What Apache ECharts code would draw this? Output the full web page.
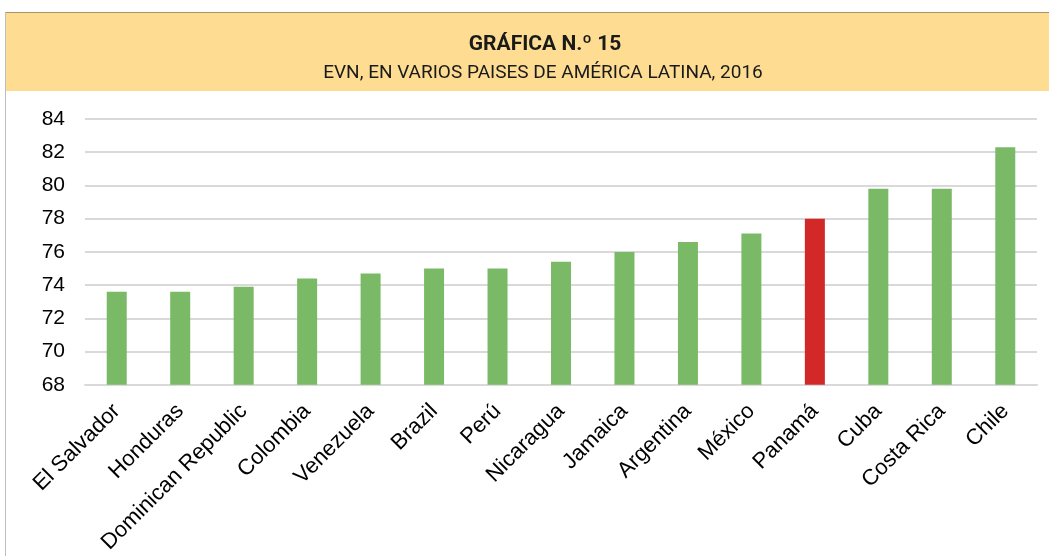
<!DOCTYPE html>
<html>
<head>
    <meta charset="UTF-8">
    <title>Gráfica N.º 15</title>
    <script src="https://cdn.jsdelivr.net/npm/echarts@6/dist/echarts.min.js"></script>
    <style>
        html, body { margin: 0; padding: 0; background: #fff; }
    </style>
</head>
<body>
<div id="main" style="width: 1049px;height:556px;"></div>
<script type="text/javascript">
    // datos
    let paises = ['El Salvador', 'Honduras', 'Dominican Republic', 'Colombia', 'Venezuela', 'Brazil', 'Perú',
        'Nicaragua', 'Jamaica', 'Argentina', 'México', 'Panamá', 'Cuba', 'Costa Rica', 'Chile'];
    let evn = [73.6, 73.6, 73.9, 74.4, 74.7, 75.0, 75.0, 75.4, 76.0, 76.6, 77.1, 78.0, 79.8, 79.8, 82.3];
    let destacado = 'Panamá';

    let verde = '#7aba66';
    let rojo = '#d22828';

    var myChart = echarts.init(document.getElementById('main'));

    let option = {
        animation: false,
        backgroundColor: '#ffffff',
        graphic: [
            {
                type: 'rect',
                shape: {x: 5, y: 12, width: 1044, height: 79},
                style: {fill: '#fedc92'},
                z: -10
            },
            {
                type: 'line',
                shape: {x1: 5, y1: 12.5, x2: 1049, y2: 12.5},
                style: {stroke: '#a89466', lineWidth: 1},
                z: -5
            },
            {
                type: 'line',
                shape: {x1: 5.5, y1: 12, x2: 5.5, y2: 556},
                style: {stroke: '#bdbdbd', lineWidth: 1},
                z: -5
            }
        ],
        title: [
            {
                text: 'GRÁFICA N.º 15',
                left: 540,
                top: 29,
                textAlign: 'center',
                textStyle: {
                    fontFamily: '"Liberation Sans Narrow", "Roboto", sans-serif',
                    fontWeight: 'bold',
                    fontSize: 21,
                    color: '#1a1a1a'
                }
            },
            {
                text: 'EVN, EN VARIOS PAISES DE AMÉRICA LATINA, 2016',
                left: 538,
                top: 59,
                textAlign: 'center',
                textStyle: {
                    fontFamily: '"Liberation Sans Narrow", "Roboto", sans-serif',
                    fontWeight: 'normal',
                    fontSize: 19,
                    color: '#1a1a1a'
                }
            }
        ],
        grid: {
            left: 85,
            right: 12,
            top: 119,
            bottom: 170
        },
        xAxis: {
            type: 'category',
            data: paises,
            axisLine: {lineStyle: {color: '#d9d9d9', width: 2}},
            axisTick: {show: false},
            axisLabel: {
                rotate: 45,
                interval: 0,
                margin: 23,
                color: '#000',
                fontSize: 22,
                fontFamily: 'Arial, "Liberation Sans", sans-serif'
            }
        },
        yAxis: {
            type: 'value',
            min: 68,
            max: 84,
            interval: 2,
            axisLine: {show: false},
            axisTick: {show: false},
            splitLine: {lineStyle: {color: '#d9d9d9', width: 2}},
            axisLabel: {
                margin: 20,
                color: '#000',
                fontSize: 21,
                fontFamily: 'Arial, "Liberation Sans", sans-serif'
            }
        },
        series: [
            {
                type: 'bar',
                barWidth: 20,
                data: evn.map((v, i) => ({
                    value: v,
                    itemStyle: {color: paises[i] === destacado ? rojo : verde}
                }))
            }
        ]
    };

    myChart.setOption(option);
</script>
</body>
</html>
